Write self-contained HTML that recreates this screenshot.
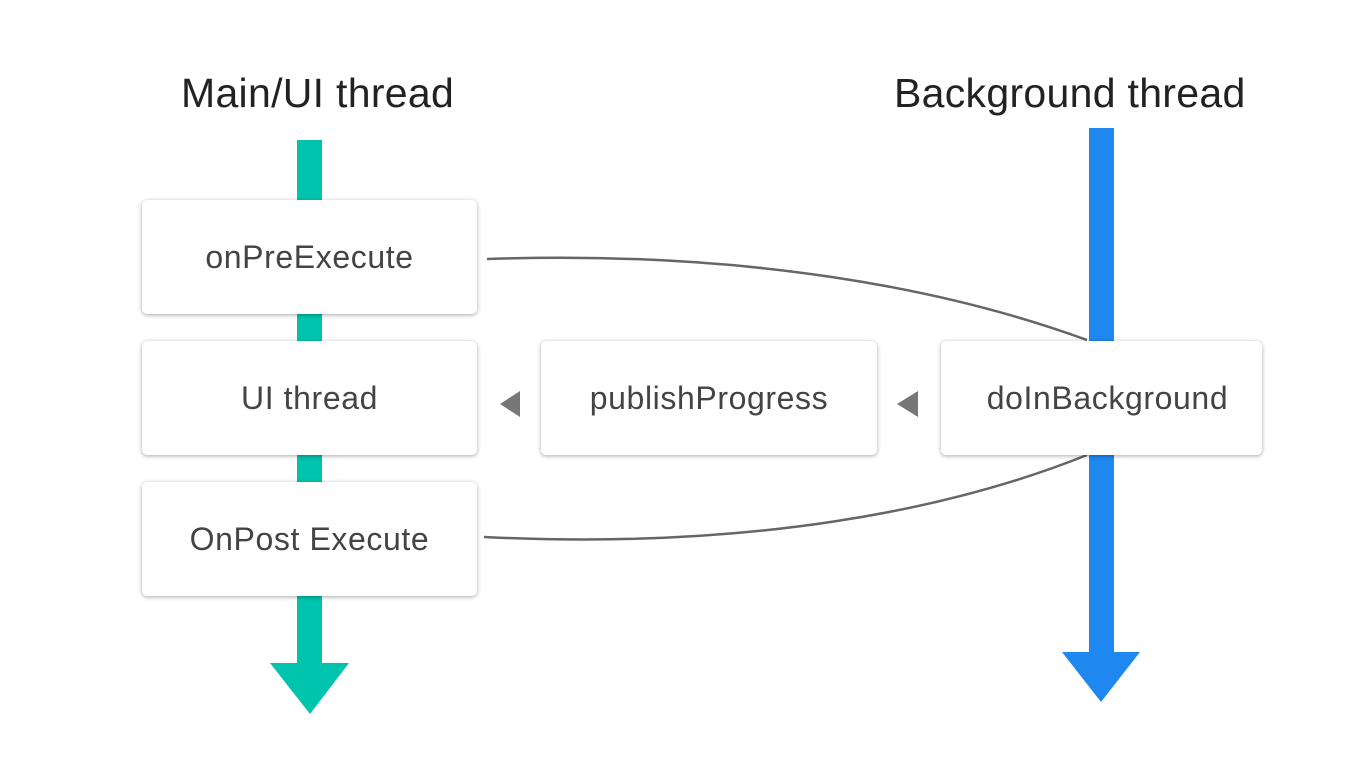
<!DOCTYPE html>
<html><head><style>
body{margin:0;width:1366px;height:768px;background:#fff;position:relative;overflow:hidden;font-family:"Liberation Sans",sans-serif;}
.t{position:absolute;font-size:41px;color:#222;top:70px;letter-spacing:0.3px;}
.b{position:absolute;background:#fff;border-radius:5px;box-shadow:0 1px 4px rgba(0,0,0,.35);display:flex;align-items:center;justify-content:center;font-size:32px;color:#444;letter-spacing:0.6px;}
</style></head><body>
<svg width="1366" height="768" style="position:absolute;left:0;top:0">
<rect x="297" y="140" width="25" height="530" fill="#00c4ae"/>
<polygon points="270,663 349,663 310,714" fill="#00c4ae"/>
<rect x="1089" y="128" width="25" height="530" fill="#1e88f0"/>
<polygon points="1062,652 1140,652 1101,702" fill="#1e88f0"/>
<path d="M487,259 C750,250 950,290 1087,340" stroke="#666" stroke-width="2.5" fill="none"/>
<path d="M484,537 C750,550 950,510 1087,455" stroke="#666" stroke-width="2.5" fill="none"/>
<polygon points="520,391 520,417 500,404" fill="#777"/>
<polygon points="918,391 918,417 897,404" fill="#777"/>
</svg>
<div class="t" style="left:181px">Main/UI thread</div>
<div class="t" style="left:894px">Background thread</div>
<div class="b" style="left:142px;top:200px;width:335px;height:114px">onPreExecute</div>
<div class="b" style="left:142px;top:341px;width:335px;height:114px">UI thread</div>
<div class="b" style="left:142px;top:482px;width:335px;height:114px">OnPost Execute</div>
<div class="b" style="left:541px;top:341px;width:336px;height:114px">publishProgress</div>
<div class="b" style="left:941px;top:341px;width:321px;height:114px;padding-left:12px;box-sizing:border-box">doInBackground</div>
</body></html>
